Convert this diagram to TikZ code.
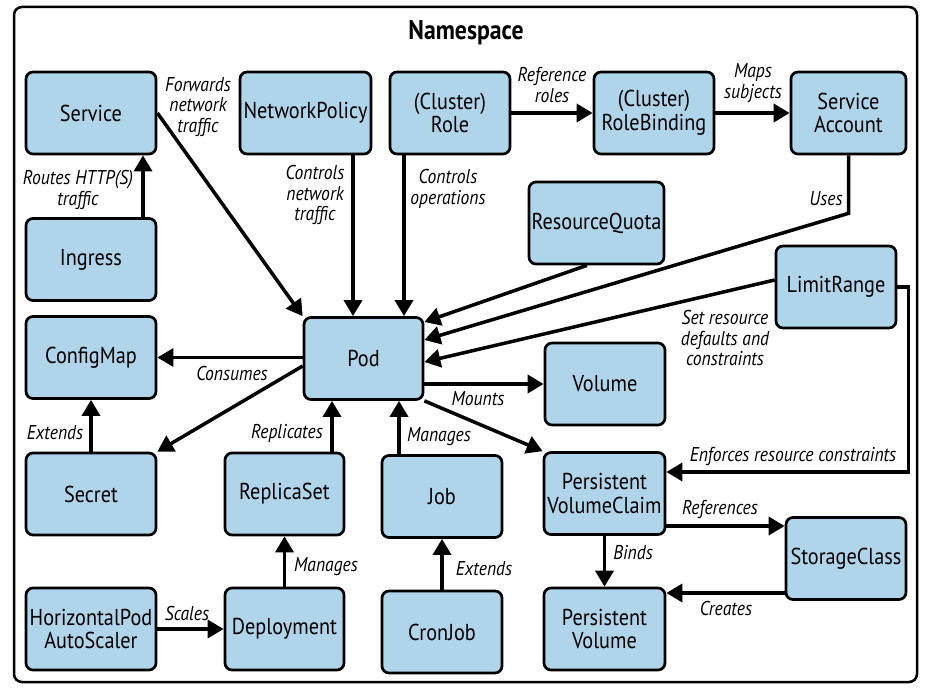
\documentclass[tikz,border=0pt]{standalone}
\usepackage{fontspec}
\setmainfont{PT Sans}[FakeStretch=0.88]
\usetikzlibrary{arrows.meta}
\definecolor{boxblue}{HTML}{B0D4EA}
\begin{document}
\begin{tikzpicture}[x=1pt,y=-1pt,
  box/.style={draw, line width=2.7pt, fill=boxblue, rounded corners=7pt,
    minimum height=82pt, align=center, inner sep=1pt,
    font=\fontsize{23}{23.5}\selectfont},
  arr/.style={line width=3.5pt, -{Triangle[length=16pt,width=18pt]}},
  lbl/.style={font=\fontsize{20}{20.5}\selectfont\itshape, align=center, inner sep=0pt},
  frame/.style={line width=2.5pt, rounded corners=8pt}]
\useasboundingbox (0,0) rectangle (928,692);
\draw[frame] (14,7) rectangle (917,682);
\node[font=\fontsize{27}{28}\selectfont\bfseries] (title) at (466,33) {Namespace};

\node[box, minimum width=130pt] (service) at (91,113) {Service};
\node[box, minimum width=131pt] (netpol) at (305.5,113) {NetworkPolicy};
\node[box, minimum width=120pt] (role) at (450,113) {(Cluster)\\Role};
\node[box, minimum width=120pt] (rb) at (654,113) {(Cluster)\\RoleBinding};
\node[box, minimum width=115pt] (sa) at (848.5,113) {Service\\Account};
\node[box, minimum width=130pt] (ingress) at (91,259.5) {Ingress};
\node[box, minimum width=135pt] (rq) at (596.5,223) {ResourceQuota};
\node[box, minimum width=120pt] (lr) at (836,287) {LimitRange};
\node[box, minimum width=119pt] (pod) at (363.5,358.5) {Pod};
\node[box, minimum width=130pt] (cm) at (91,357.5) {ConfigMap};
\node[box, minimum width=120pt] (vol) at (605,384) {Volume};
\node[box, minimum width=130pt] (secret) at (91,494) {Secret};
\node[box, minimum width=119pt] (rs) at (284.5,494) {ReplicaSet};
\node[box, minimum width=120pt] (job) at (442,496.5) {Job};
\node[box, minimum width=121pt] (pvc) at (604.5,493.5) {Persistent\\VolumeClaim};
\node[box, minimum width=120pt] (sc) at (846,558.5) {StorageClass};
\node[box, minimum width=130pt] (hpa) at (91,629) {HorizontalPod\\AutoScaler};
\node[box, minimum width=119pt] (dep) at (284.5,629) {Deployment};
\node[box, minimum width=120pt] (cj) at (442,632) {CronJob};
\node[box, minimum width=121pt] (pv) at (604.5,629) {Persistent\\Volume};

% helper coordinates
\coordinate (xing) at ([xshift=52pt]ingress.north);
\coordinate (xnp) at ([xshift=-10.5pt]pod.north);
\coordinate (xro) at ([xshift=40.5pt]pod.north);
\coordinate (xrs) at ([xshift=47.5pt]rs.north);
\coordinate (xjob) at ([xshift=-43pt]job.north);
\coordinate (ypvcsc) at ([yshift=-32.5pt]pvc.east);
\coordinate (ypvsc) at ([yshift=36pt]pv.east);

\draw[arr] (xing) -- (xing |- service.south);
\draw[arr] (service.east) -- (pod.north west);
\draw[arr] (netpol.south -| xnp) -- (xnp);
\draw[arr] (role.south -| xro) -- (xro);
\draw[arr] (role.east) -- (rb.west);
\draw[arr] (rb.east) -- (sa.west);
\draw[arr] (sa.south) -- ++(0,58) -- ([yshift=18.5pt]pod.east);
\draw[arr] ([xshift=-9.5pt]rq.south) -- ([yshift=36.5pt]pod.east);
\draw[arr] ([yshift=7pt]lr.west) -- ([yshift=-3.5pt]pod.east);
\draw[arr] (lr.east) -- ++(11,0) |- ([yshift=21.5pt]pvc.east);
\draw[arr] (pod.west |- cm.east) -- (cm.east);
\draw[arr] ([yshift=-7.5pt]pod.west) -- (secret.north east);
\draw[arr] (secret.north) -- (cm.south);
\draw[arr] (xrs) -- (xrs |- pod.south);
\draw[arr] (xjob) -- (xjob |- pod.south);
\draw[arr] (pod.east |- vol.west) -- (vol.west);
\draw[arr] (pod.south east) -- (pvc.north west);
\draw[arr] (dep.north) -- (rs.south);
\draw[arr] (hpa.east) -- (dep.west);
\draw[arr] (cj.north) -- (job.south);
\draw[arr] (pvc.south) -- (pv.north);
\draw[arr] (ypvcsc) -- (ypvcsc -| sc.west);
\draw[arr] (sc.west |- ypvsc) -- (ypvsc);

% labels
\node[lbl] (l1) at (78,190) {Routes HTTP(S)\\traffic};
\node[lbl] (l2) at (198,107) {Forwards\\network\\traffic};
\node[lbl] (l3) at (315,195) {Controls\\network\\traffic};
\node[lbl] (l4) at (448,189) {Controls\\operations};
\node[lbl] (l5) at (552,85) {Reference\\roles};
\node[lbl] (l6) at (753,83) {Maps\\subjects};
\node[lbl] (l7) at (826,199) {Uses};
\node[lbl] (l8) at (725,338) {Set resource\\defaults and\\constraints};
\node[lbl] (l9) at (793,456) {Enforces resource constraints};
\node[lbl] (l10) at (232,373) {Consumes};
\node[lbl] (l11) at (55,433) {Extends};
\node[lbl] (l12) at (287,433) {Replicates};
\node[lbl] (l13) at (439,437) {Manages};
\node[lbl] (l14) at (478,399) {Mounts};
\node[lbl] (l15) at (326,567) {Manages};
\node[lbl] (l16) at (187,613) {Scales};
\node[lbl] (l17) at (484,569) {Extends};
\node[lbl] (l18) at (633,553) {Binds};
\node[lbl] (l19) at (720,509) {References};
\node[lbl] (l20) at (726,608) {Creates};
\end{tikzpicture}
\end{document}
